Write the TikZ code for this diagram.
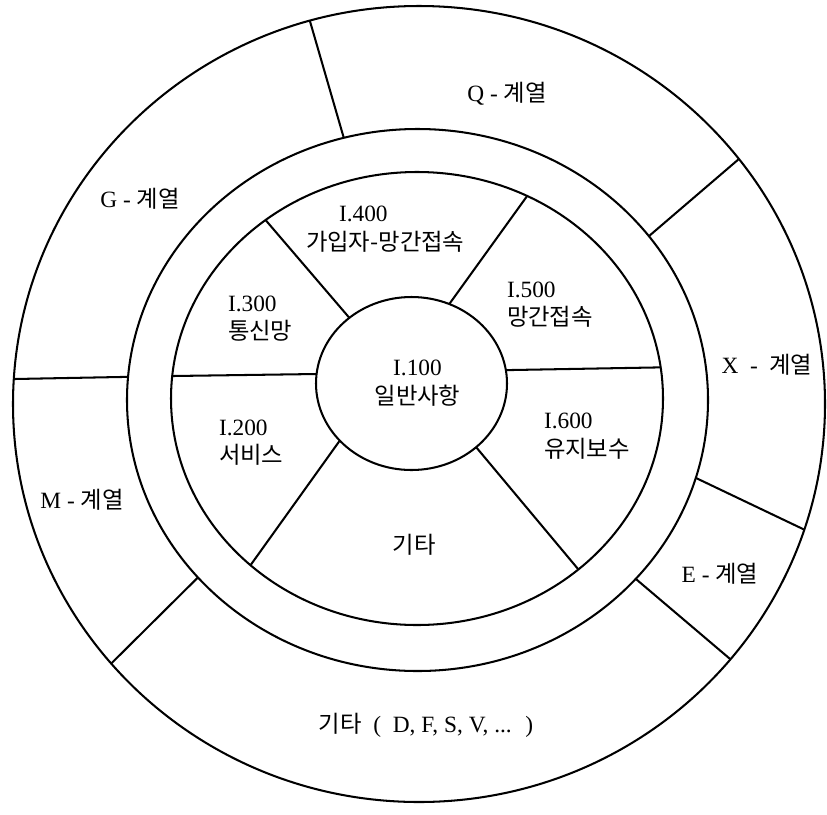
\documentclass[tikz,border=0pt]{standalone}
\usepackage{fontspec}
\setmainfont{Liberation Serif}
\newfontfamily\kr{Noto Sans CJK KR}

\begin{document}
\begin{tikzpicture}[x=0.25mm, y=-0.25mm, line width=1.45pt,
  lbl/.style={font=\fontsize{16.6}{20.2}\selectfont, inner sep=0pt},
  leftlbl/.style={lbl, align=left, anchor=west},
  midlbl/.style={lbl, align=center}]
\useasboundingbox (0,0) rectangle (827,814);
\coordinate (o) at (419,404);
\coordinate (s) at (417.5,400);
\coordinate (t) at (417,398.5);
\coordinate (c) at (411.5,383.5);
\draw (o) ellipse [x radius=406, y radius=398];
\draw (s) ellipse [x radius=290.5, y radius=271];
\draw (t) ellipse [x radius=246, y radius=226.5];
\draw (c) ellipse [x radius=95.5, y radius=86.5];
% outer ring
\draw ([shift={(s)}]255.3:290.5 and 271) -- ([shift={(o)}]254.4:406 and 398);
\draw ([shift={(s)}]322.8:290.5 and 271) -- ([shift={(o)}]322:406 and 398);
\draw ([shift={(s)}]16.7:290.5 and 271) -- ([shift={(o)}]18.4:406 and 398);
\draw ([shift={(s)}]41.3:290.5 and 271) -- ([shift={(o)}]39.9:406 and 398);
\draw ([shift={(s)}]139.1:290.5 and 271) -- ([shift={(o)}]139.3:406 and 398);
\draw ([shift={(s)}]184.9:290.5 and 271) -- ([shift={(o)}]183.6:406 and 398);
% inner ring
\draw ([shift={(c)}]229.4:95.5 and 86.5) -- ([shift={(t)}]232:246 and 226.5);
\draw ([shift={(c)}]293.3:95.5 and 86.5) -- ([shift={(t)}]296.6:246 and 226.5);
\draw ([shift={(c)}]186.3:95.5 and 86.5) -- ([shift={(t)}]185.7:246 and 226.5);
\draw ([shift={(c)}]351.1:95.5 and 86.5) -- ([shift={(t)}]352.1:246 and 226.5);
\draw ([shift={(c)}]138.7:95.5 and 86.5) -- ([shift={(t)}]132.6:246 and 226.5);
\draw ([shift={(c)}]47.4:95.5 and 86.5) -- ([shift={(t)}]49:246 and 226.5);
% labels
\node[midlbl] (qser) at (507,93.5) {Q - {\kr 계열}};
\node[midlbl] (gser) at (140,199) {G - {\kr 계열}};
\node[midlbl] (xser) at (767,365) {X~~-~~{\kr 계열}};
\node[midlbl] (mser) at (82,500) {M - {\kr 계열}};
\node[midlbl] (eser) at (720,574) {E - {\kr 계열}};
\node[midlbl] (oser) at (426,725) {{\kr 기타}~ (~ D, F, S, V, ...~ )};
\node[midlbl] (i100) at (417.5,383) {I.100\\{\kr 일반사항}};
\node[leftlbl] (i400) at (305,229) {\hspace*{8.25mm}I.400\\{\kr 가입자-망간접속}};
\node[leftlbl] (i300) at (227,318.5) {I.300\\{\kr 통신망}};
\node[leftlbl] (i500) at (506,304.5) {I.500\\{\kr 망간접속}};
\node[leftlbl] (i200) at (218,442.5) {I.200\\{\kr 서비스}};
\node[leftlbl] (i600) at (543,436) {I.600\\{\kr 유지보수}};
\node[midlbl] (ietc) at (414,545) {{\kr 기타}};
\end{tikzpicture}
\end{document}
